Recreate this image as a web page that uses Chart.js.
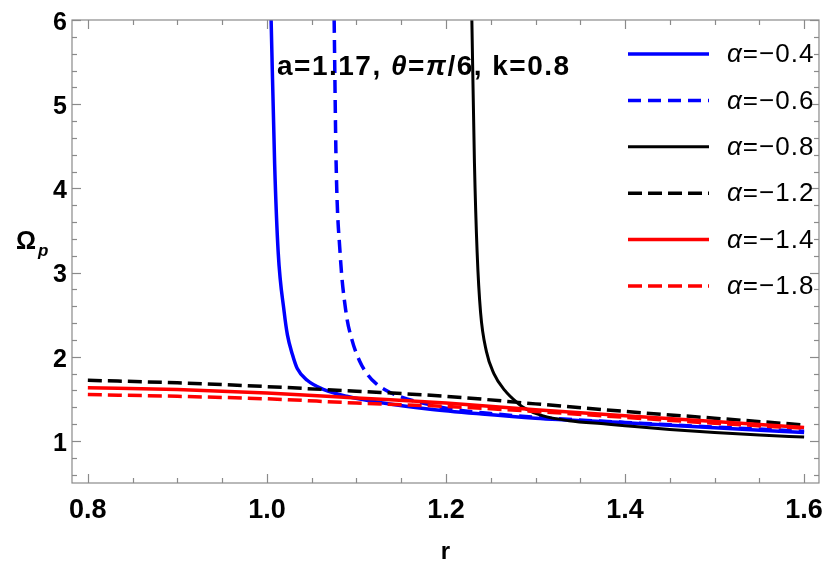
<!DOCTYPE html>
<html>
<head>
<meta charset="utf-8">
<script src="https://cdn.jsdelivr.net/npm/chart.js@4.4.1/dist/chart.umd.min.js"></script>
<style>
  html, body { margin: 0; padding: 0; background: #fff; }
  #wrap { width: 834px; height: 571px; }
</style>
</head>
<body>
<div id="wrap"><canvas id="omegaChart" width="834" height="571"></canvas></div>
<script>
// values
const alphas = ['−0.4', '−0.6', '−0.8', '−1.2', '−1.4', '−1.8'];

const rA04 = [1.0047, 1.0086, 1.0126, 1.0193, 1.0229, 1.0284, 1.0339, 1.045, 1.0637, 1.0891, 1.13, 1.18, 1.24, 1.3, 1.4, 1.5, 1.6];
const wA04 = [6.0, 4.30, 3.24, 2.53, 2.26, 2.03, 1.86, 1.72, 1.61, 1.53, 1.45, 1.38, 1.32, 1.27, 1.215, 1.155, 1.10];

const rA06 = [1.0751, 1.0773, 1.0817, 1.0883, 1.095, 1.1035, 1.113, 1.122, 1.135, 1.1476, 1.1774, 1.2105, 1.25, 1.3, 1.4, 1.5, 1.6];
const wA06 = [6.0, 4.30, 3.24, 2.53, 2.2, 1.95, 1.78, 1.68, 1.59, 1.53, 1.44, 1.37, 1.325, 1.28, 1.22, 1.165, 1.115];

const rA08 = [1.2289, 1.2318, 1.2348, 1.2386, 1.2452, 1.2535, 1.2657, 1.28, 1.2877, 1.3076, 1.3374, 1.379, 1.4, 1.45, 1.5, 1.55, 1.6];
const wA08 = [6.0, 4.30, 3.24, 2.53, 2.06, 1.80, 1.60, 1.45, 1.39, 1.30, 1.24, 1.20, 1.18, 1.135, 1.10, 1.07, 1.045];

const rA12 = [0.8, 0.9, 1.0, 1.1, 1.2, 1.3, 1.4, 1.5, 1.6];
const wA12 = [1.72, 1.69, 1.645, 1.59, 1.53, 1.44, 1.35, 1.27, 1.19];

const rA14 = [0.8, 0.9, 1.0, 1.1, 1.2, 1.3, 1.4, 1.5, 1.6];
const wA14 = [1.63, 1.61, 1.57, 1.51, 1.45, 1.37, 1.30, 1.23, 1.16];

const rA18 = [0.8, 0.9, 1.0, 1.1, 1.2, 1.3, 1.4, 1.5, 1.6];
const wA18 = [1.55, 1.53, 1.50, 1.45, 1.41, 1.35, 1.28, 1.21, 1.15];

const xTicks = [0.8, 1.0, 1.2, 1.4, 1.6];
const yTicks = [1, 2, 3, 4, 5, 6];

const FONT = '"Liberation Sans", Arial, sans-serif';

const series = [
  { r: rA04, w: wA04, color: '#0000ff', dash: [], width: 3.5 },
  { r: rA06, w: wA06, color: '#0000ff', dash: [13, 7], width: 3.5 },
  { r: rA08, w: wA08, color: '#000000', dash: [], width: 3 },
  { r: rA12, w: wA12, color: '#000000', dash: [14, 6], width: 3.5 },
  { r: rA14, w: wA14, color: '#ff0000', dash: [], width: 3.5 },
  { r: rA18, w: wA18, color: '#ff0000', dash: [14, 6], width: 3.5 }
];

const datasets = series.map((s, i) => ({
  label: 'α=' + alphas[i],
  data: s.r.map((r, j) => ({ x: r, y: s.w[j] })),
  borderColor: s.color,
  borderDash: s.dash,
  borderWidth: s.width,
  fill: false,
  pointRadius: 0,
  cubicInterpolationMode: 'monotone',
  order: series.length - i // later curves drawn on top, like the original
}));

// frame and inward ticks on all four sides
const frameTicks = {
  id: 'frameTicks',
  afterDatasetsDraw(chart) {
    const { ctx, chartArea: a, scales: { x, y } } = chart;
    ctx.save();
    ctx.strokeStyle = '#8a8a8a';
    ctx.lineWidth = 1.2;
    ctx.strokeRect(a.left, a.top, a.right - a.left, a.bottom - a.top);
    const seg = (x1, y1, x2, y2) => { ctx.beginPath(); ctx.moveTo(x1, y1); ctx.lineTo(x2, y2); ctx.stroke(); };
    for (let k = 0; k <= 16; k++) {
      const v = 0.8 + k * 0.05;
      const len = k % 4 === 0 ? 9 : 5;
      const px = Math.round(x.getPixelForValue(v)) + 0.5;
      seg(px, a.bottom, px, a.bottom - len);
      seg(px, a.top, px, a.top + len);
    }
    for (let k = 0; k <= 27; k++) {
      const v = 0.6 + k * 0.2;
      const major = Math.abs(v - Math.round(v)) < 1e-6;
      const len = major ? 9 : 5;
      const py = Math.round(y.getPixelForValue(v)) + 0.5;
      seg(a.left, py, a.left + len, py);
      seg(a.right, py, a.right - len, py);
    }
    ctx.restore();
  }
};

// draws a row of text pieces with their own fonts
function drawRuns(ctx, x, y, runs) {
  runs.forEach(([txt, font]) => {
    ctx.font = font;
    ctx.fillText(txt, x, y);
    x += ctx.measureText(txt).width;
  });
  return x;
}

const texts = {
  id: 'texts',
  afterDraw(chart) {
    const ctx = chart.ctx;
    ctx.save();
    ctx.fillStyle = '#000';
    ctx.textBaseline = 'alphabetic';

    // y axis label
    drawRuns(ctx, 16, 249, [['Ω', 'bold 25px ' + FONT]]);
    ctx.font = 'italic bold 17px ' + FONT;
    ctx.fillText('p', 38, 256);

    // parameters
    ctx.letterSpacing = '1.5px';
    const b = 'bold 28px ' + FONT;
    const bi = 'italic bold 28px ' + FONT;
    drawRuns(ctx, 277, 75, [['a=1.17, ', b], ['θ', bi], ['=', b], ['π', bi], ['/6, k=0.8', b]]);

    // legend
    ctx.letterSpacing = '1px';
    const y0 = 54, step = 46.4;
    chart.data.datasets.forEach((ds, i) => {
      const yy = y0 + i * step;
      ctx.save();
      ctx.strokeStyle = ds.borderColor;
      ctx.lineWidth = ds.borderWidth;
      ctx.setLineDash(ds.borderDash);
      ctx.beginPath();
      ctx.moveTo(628, yy);
      ctx.lineTo(709, yy);
      ctx.stroke();
      ctx.restore();
      ctx.textBaseline = 'middle';
      drawRuns(ctx, 727, yy + 1, [['α', 'italic 26px ' + FONT], ['=' + alphas[i], '26px ' + FONT]]);
    });
    ctx.restore();
  }
};

const ctx = document.getElementById('omegaChart').getContext('2d');
new Chart(ctx, {
  type: 'line',
  data: { datasets },
  options: {
    responsive: false,
    animation: false,
    devicePixelRatio: 1,
    layout: { padding: { top: 16, right: 6, left: 0, bottom: 0 } },
    plugins: { legend: { display: false }, tooltip: { enabled: false } },
    scales: {
      x: {
        type: 'linear',
        min: 0.7823,
        max: 1.6166,
        grid: { display: false, drawTicks: false },
        border: { display: false },
        afterBuildTicks: s => { s.ticks = xTicks.map(v => ({ value: v })); },
        afterFit: s => { s.height = 88; },
        ticks: {
          color: '#000',
          font: { family: FONT, size: 27, weight: 'bold' },
          padding: 11,
          maxRotation: 0,
          autoSkip: false,
          callback: v => v.toFixed(1)
        },
        title: {
          display: true,
          text: 'r',
          color: '#000',
          font: { family: FONT, size: 24, weight: 'bold' },
          padding: { top: 0, bottom: 4 }
        }
      },
      y: {
        type: 'linear',
        min: 0.5,
        max: 6,
        grid: { display: false, drawTicks: false },
        border: { display: false },
        afterBuildTicks: s => { s.ticks = yTicks.map(v => ({ value: v })); },
        afterFit: s => { s.width = 72; },
        ticks: {
          color: '#000',
          font: { family: FONT, size: 25, weight: 'bold' },
          padding: 5,
          labelOffset: 3,
          callback: v => String(v)
        }
      }
    }
  },
  plugins: [frameTicks, texts]
});
</script>
</body>
</html>
